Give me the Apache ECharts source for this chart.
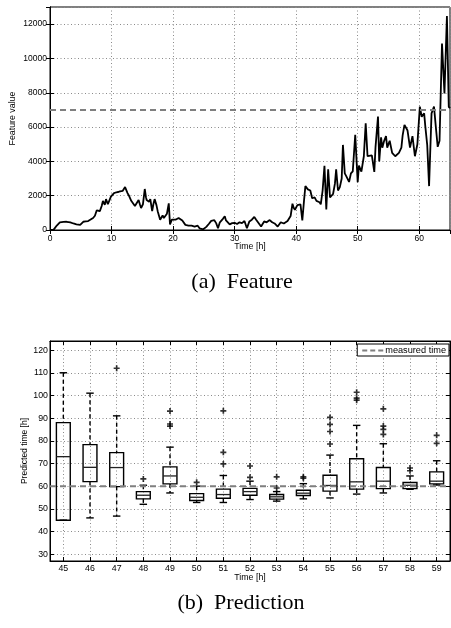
<!DOCTYPE html>
<html>
<head>
<meta charset="utf-8">
<script src="https://cdn.jsdelivr.net/npm/echarts@6/dist/echarts.min.js"></script>
<style>
  html, body { margin: 0; padding: 0; background: #fff; }
  #chartContainer { width: 451px; height: 628px; }
</style>
</head>
<body>
<div id="chartContainer"></div>
<script>
// (a) feature over time
var featureTime = [0, 0.6, 1.1, 1.6, 2.2, 2.7, 3.3, 3.8, 4.3, 4.9, 5.4, 5.8, 6.2, 6.6, 7.0, 7.3, 7.6, 8.1, 8.4, 8.6,
  8.9, 9.1, 9.4, 9.6, 9.9, 10.4, 10.8, 11.2, 11.5, 11.8, 12.0, 12.2, 12.4, 12.6, 12.9, 13.2, 13.5, 13.8, 14.1, 14.4,
  14.6, 14.8, 15.1, 15.4, 15.6, 15.7, 16.1, 16.3, 16.6, 16.8, 17.0, 17.3, 17.5, 17.9, 18.1, 18.3, 18.5, 18.7, 19.0, 19.3,
  19.5, 19.8, 20.1, 20.4, 20.6, 20.9, 21.2, 21.5, 21.7, 22.0, 22.2, 22.5, 22.7, 23.0, 23.2, 23.5, 23.8, 24.0, 24.3, 24.6,
  24.9, 25.2, 25.4, 25.8, 26.2, 26.5, 26.7, 27.0, 27.3, 27.6, 27.8, 28.1, 28.4, 28.6, 28.9, 29.2, 29.6, 30.0, 30.4, 30.8,
  31.2, 31.6, 32.0, 32.4, 32.8, 33.2, 33.5, 33.8, 34.3, 34.8, 35.2, 35.7, 36.1, 36.5, 37.0, 37.5, 38.0, 38.3, 38.6, 39.1,
  39.4, 39.6, 39.8, 40.2, 40.5, 40.7, 41.0, 41.3, 41.5, 41.9, 42.3, 42.6, 43.0, 43.3, 43.8, 44.0, 44.3, 44.6, 44.9, 45.2,
  45.5, 46.0, 46.3, 46.5, 46.8, 47.1, 47.4, 47.6, 47.9, 48.2, 48.6, 48.9, 49.2, 49.6, 50.0, 50.2, 50.6, 51.0, 51.3, 51.6,
  51.9, 52.3, 52.7, 52.9, 53.3, 53.5, 53.8, 54.0, 54.3, 54.6, 54.8, 55.2, 55.6, 56.1, 56.4, 56.7, 57.1, 57.3, 57.6, 58.1,
  58.5, 58.9, 59.3, 59.7, 60.1, 60.4, 60.8, 61.0, 61.3, 61.6, 62.0, 62.4, 62.7, 63.0, 63.3, 63.7, 64.1, 64.5, 64.8, 65.0];
var featureValue = [0, 20, 260, 450, 470, 480, 440, 380, 330, 300, 480, 500, 520, 610, 700, 830, 1150, 1100, 1400, 1700,
  1470, 1800, 1500, 1450, 1950, 2150, 2200, 2230, 2200, 2280, 2250, 2500, 2400, 2150, 1950, 1700, 1600, 1400, 1500, 1750,
  1500, 1280, 1500, 2390, 1900, 1750, 1650, 1800, 1100, 1500, 1800, 1450, 1100, 600, 700, 850, 700, 600, 950, 1550,
  330, 600, 700, 600, 520, 700, 700, 550, 450, 300, 200, 250, 160, 250, 330, 200, 150, 250, 100, 130,
  40, 100, 180, 350, 530, 480, 570, 400, 100, 450, 560, 650, 800, 560, 470, 330, 400, 420, 350, 450,
  400, 525, 100, 500, 600, 760, 600, 500, 200, 500, 450, 580, 450, 380, 200, 450, 380, 450, 520, 815,
  1530, 1300, 1180, 1450, 1350, 1500, 560, 1800, 2560, 2370, 2300, 1850, 1900, 1700, 1620, 1500, 2300, 3740, 1200, 3540,
  1900, 2100, 2700, 3540, 2300, 2500, 3000, 4960, 3300, 3100, 2800, 3300, 3420, 5550, 2790, 3750, 3400, 4300, 6220, 4300,
  4400, 4350, 3390, 4850, 6610, 4000, 5400, 4800, 5200, 5470, 4800, 5200, 4500, 4300, 4400, 4500, 4800, 5500, 6130, 5800,
  4800, 5470, 4300, 5000, 7190, 6600, 6800, 6000, 4950, 2560, 6800, 7190, 6000, 4850, 5200, 10870, 7960, 12470, 7180, 7100];
var featureThreshold = 7000;

// (b) prediction box plots
var hours = [45, 46, 47, 48, 49, 50, 51, 52, 53, 54, 55, 56, 57, 58, 59];
var boxLow = [45, 46, 46.8, 52, 57, 52.8, 52.8, 54.1, 53.4, 54.4, 54.8, 56.5, 57, 58.6, 60.5];
var boxQ1 = [45, 62, 59.8, 54.4, 61, 53.7, 54.7, 56, 54.3, 55.9, 57.8, 58.7, 58.9, 58.9, 61];
var boxMedian = [73, 68.3, 68.2, 56, 64.5, 55.1, 56.3, 57.6, 55.3, 56.9, 60.3, 61.9, 62.2, 60.4, 62.2];
var boxQ3 = [88, 78.3, 74.8, 57.6, 68.5, 56.7, 58.7, 59, 56.3, 58.2, 64.8, 72.1, 68.2, 61.6, 66.3];
var boxHigh = [110, 101, 91, 60.4, 77.2, 60, 64.7, 62.2, 57.6, 61.1, 73.7, 86.8, 78.7, 64.5, 71.2];
var outlierHour = [47, 48, 49, 49, 49, 50, 51, 51, 51, 52, 52, 53, 53, 54, 54, 55, 55, 55, 55,
  56, 56, 56, 57, 57, 57, 57, 58, 58, 59, 59];
var outlierValue = [112, 63.2, 93.1, 87.4, 86.5, 61.7, 93.2, 74.9, 69.8, 68.9, 63.9, 64.1, 59.2, 64.1, 63.5, 90.3, 87.2, 84.1, 78.6,
  101.4, 98.8, 97.9, 94.1, 86.5, 85, 82.8, 68, 66.8, 82.4, 78.9];
var measuredTime = 60;

function drawCharts() {
  var chart = echarts.init(document.getElementById('chartContainer'));
  var font = 'Liberation Sans';
  var gridLine = { show: true, lineStyle: { color: '#8a8a8a', width: 1, type: [1, 2.5] } };
  var plusSymbol = 'path://M3.6,0h2.8v3.6h3.6v2.8h-3.6v3.6h-2.8v-3.6h-3.6v-2.8h3.6z';

  var featureData = featureTime.map(function (t, i) { return [t, featureValue[i]]; });
  var boxData = hours.map(function (h, i) {
    return [h, boxLow[i], boxQ1[i], boxMedian[i], boxQ3[i], boxHigh[i]];
  });
  var outlierData = outlierHour.map(function (h, i) { return [h, outlierValue[i]]; });

  function mirrorAxis(base, pos) {
    return Object.assign({}, base, {
      position: pos, name: '', axisLabel: { show: false }, splitLine: { show: false }
    });
  }
  function plain(v) { return String(v); }

  var topX = {
    type: 'value', gridIndex: 0, min: 0, max: 65, interval: 10,
    name: 'Time [h]', nameLocation: 'middle', nameGap: 12.5, nameMoveOverlap: false,
    nameTextStyle: { fontFamily: font, fontSize: 8.8, color: '#000' },
    axisLine: { lineStyle: { color: '#000', width: 1 } },
    axisTick: { inside: true, length: 4, lineStyle: { color: '#000' } },
    axisLabel: { fontFamily: font, fontSize: 8.5, color: '#000', margin: 4, showMaxLabel: false, formatter: plain },
    splitLine: gridLine
  };
  var topY = {
    type: 'value', gridIndex: 0, min: 0, max: 13000, interval: 2000,
    name: 'Feature value', nameLocation: 'middle', nameGap: 33, nameMoveOverlap: false,
    nameTextStyle: { fontFamily: font, fontSize: 8.8, color: '#000' },
    axisLine: { lineStyle: { color: '#000', width: 1 } },
    axisTick: { inside: true, length: 4, lineStyle: { color: '#000' } },
    axisLabel: { fontFamily: font, fontSize: 8.5, color: '#000', margin: 3, showMaxLabel: false, formatter: plain },
    splitLine: gridLine
  };
  var botX = {
    type: 'value', gridIndex: 1, min: 44.5, max: 59.5, minInterval: 1, maxInterval: 1,
    name: 'Time [h]', nameLocation: 'middle', nameGap: 12, nameMoveOverlap: false,
    nameTextStyle: { fontFamily: font, fontSize: 8.8, color: '#000' },
    axisLine: { lineStyle: { color: '#000', width: 1 } },
    axisTick: { inside: true, length: 4, lineStyle: { color: '#000' } },
    axisLabel: { fontFamily: font, fontSize: 8.8, color: '#000', margin: 3, showMinLabel: false, showMaxLabel: false },
    splitLine: gridLine
  };
  var botY = {
    type: 'value', gridIndex: 1, min: 27, max: 124, minInterval: 10, maxInterval: 10,
    name: 'Predicted time [h]', nameLocation: 'middle', nameGap: 21, nameMoveOverlap: false,
    nameTextStyle: { fontFamily: font, fontSize: 8.5, color: '#000' },
    axisLine: { lineStyle: { color: '#000', width: 1 } },
    axisTick: { inside: true, length: 4, lineStyle: { color: '#000' } },
    axisLabel: { fontFamily: font, fontSize: 8.8, color: '#000', margin: 2, showMinLabel: false, showMaxLabel: false },
    splitLine: gridLine
  };

  chart.setOption({
    animation: false,
    backgroundColor: '#fff',
    grid: [
      { left: 50, right: 1, top: 7, height: 223, show: true, borderColor: '#000', borderWidth: 1, outerBoundsMode: 'none' },
      { left: 50, right: 1, top: 341, height: 220, show: true, borderColor: '#000', borderWidth: 1, outerBoundsMode: 'none' }
    ],
    xAxis: [topX, mirrorAxis(topX, 'top'), botX, mirrorAxis(botX, 'top')],
    yAxis: [topY, mirrorAxis(topY, 'right'), botY, mirrorAxis(botY, 'right')],
    legend: {
      data: [{ name: 'measured time', icon: 'path://M0,0h5v2h-5z M8,0h5v2h-5z M16,0h5v2h-5z' }],
      right: 2, top: 344,
      orient: 'horizontal',
      backgroundColor: '#fff', borderColor: '#000', borderWidth: 1,
      padding: [2, 3, 1, 5],
      itemWidth: 21, itemHeight: 2,
      textStyle: { fontFamily: font, fontSize: 9.2, color: '#000', padding: [0, 0, 0, -3] }
    },
    series: [
      {
        name: 'feature', type: 'line', xAxisIndex: 0, yAxisIndex: 0,
        data: featureData, showSymbol: false, symbol: 'none',
        lineStyle: { color: '#000', width: 1.8 }
      },
      {
        name: 'threshold', type: 'line', xAxisIndex: 0, yAxisIndex: 0,
        data: [[0, featureThreshold], [65, featureThreshold]], symbol: 'none',
        lineStyle: { color: '#7f7f7f', width: 2, type: [6, 4] }
      },
      {
        name: 'boxes', type: 'custom', xAxisIndex: 2, yAxisIndex: 2,
        data: boxData,
        encode: { x: 0, y: [1, 2, 3, 4, 5] },
        renderItem: function (params, api) {
          var h = api.value(0);
          var lo = api.coord([h, api.value(1)]);
          var q1 = api.coord([h, api.value(2)]);
          var md = api.coord([h, api.value(3)]);
          var q3 = api.coord([h, api.value(4)]);
          var hi = api.coord([h, api.value(5)]);
          var band = api.size([1, 0])[0];
          var hw = band * 0.26, cw = band * 0.14, cx = q1[0];
          var solid = { stroke: '#000', lineWidth: 1.4, fill: 'none' };
          var dash = { stroke: '#000', lineWidth: 1.4, lineDash: [4, 3] };
          return {
            type: 'group',
            children: [
              { type: 'line', shape: { x1: cx, y1: hi[1], x2: cx, y2: q3[1] }, style: dash },
              { type: 'line', shape: { x1: cx, y1: q1[1], x2: cx, y2: lo[1] }, style: dash },
              { type: 'line', shape: { x1: cx - cw, y1: hi[1], x2: cx + cw, y2: hi[1] }, style: solid },
              { type: 'line', shape: { x1: cx - cw, y1: lo[1], x2: cx + cw, y2: lo[1] }, style: solid },
              { type: 'rect', shape: { x: cx - hw, y: q3[1], width: hw * 2, height: q1[1] - q3[1] }, style: solid },
              { type: 'line', shape: { x1: cx - hw, y1: md[1], x2: cx + hw, y2: md[1] }, style: { stroke: '#222', lineWidth: 1.3 } }
            ]
          };
        }
      },
      {
        name: 'outliers', type: 'scatter', xAxisIndex: 2, yAxisIndex: 2,
        data: outlierData, symbol: plusSymbol, symbolSize: 6,
        itemStyle: { color: '#000' }
      },
      {
        name: 'measured time', type: 'line', xAxisIndex: 2, yAxisIndex: 2,
        data: [[44.5, measuredTime], [59.5, measuredTime]], symbol: 'none',
        itemStyle: { color: '#7f7f7f' },
        lineStyle: { color: '#7f7f7f', width: 2, type: [6, 4] }
      }
    ],
    graphic: [
      { type: 'text', x: 242, y: 282, style: { text: '(a)  Feature', font: '22px "Liberation Serif"', fill: '#000', align: 'center', verticalAlign: 'middle' } },
      { type: 'text', x: 241, y: 603, style: { text: '(b)  Prediction', font: '22px "Liberation Serif"', fill: '#000', align: 'center', verticalAlign: 'middle' } }
    ]
  });
}

drawCharts();
</script>
</body>
</html>
